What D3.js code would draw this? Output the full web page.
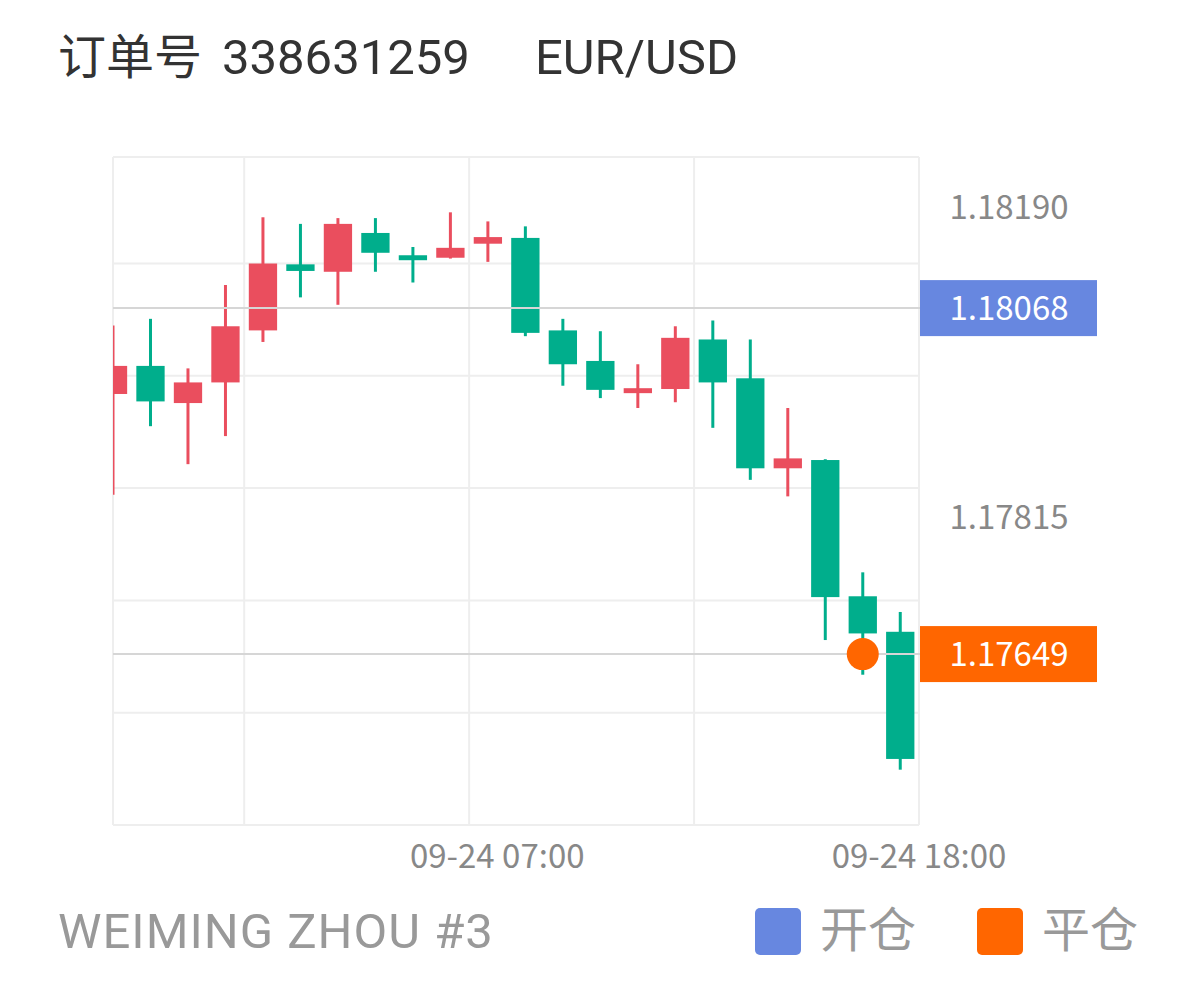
<!DOCTYPE html>
<html><head><meta charset="utf-8">
<script src="https://cdn.jsdelivr.net/npm/d3@7"></script>
<style>html,body{margin:0;padding:0;background:#fff;}svg{display:block;}</style>
</head><body>
<svg id="chart" width="1198" height="990"></svg>
<script>
// ---- data ----
const candleIndex = d3.range(22);
const opens  = [1.17964,1.17998,1.17953,1.17978,1.18041,1.18121,1.18112,1.18159,1.18132,1.18129,1.18146,1.18153,1.18041,1.18004,1.17965,1.17970,1.18030,1.17983,1.17874,1.17884,1.17719,1.17676];
const closes = [1.17998,1.17955,1.17978,1.18046,1.18122,1.18113,1.18170,1.18135,1.18126,1.18141,1.18154,1.18038,1.18000,1.17969,1.17971,1.18032,1.17978,1.17874,1.17886,1.17718,1.17674,1.17522];
const highs  = [1.18047,1.18055,1.17995,1.18096,1.18178,1.18170,1.18177,1.18177,1.18142,1.18184,1.18173,1.18167,1.18055,1.18040,1.18000,1.18046,1.18053,1.18030,1.17947,1.17885,1.17748,1.17700];
const lows   = [1.17842,1.17925,1.17879,1.17913,1.18027,1.18081,1.18072,1.18112,1.18099,1.18128,1.18124,1.18034,1.17974,1.17959,1.17947,1.17954,1.17923,1.17860,1.17840,1.17666,1.17624,1.17509];
const yDomain = [1.17442, 1.18251];
const gridValues = [1.17442, 1.17578, 1.17714, 1.17850, 1.17986, 1.18122];
const xGridIndex = [3.5, 9.5, 15.5];
const yTickLabels = ["1.18190", "1.17815"];
const xTickIndex = [10.25, 21.5];
const xTickLabels = ["09-24 07:00", "09-24 18:00"];
const openPrice = 1.18068;
const closePrice = 1.17649;
const closeIndex = 20;
const titleLabel = "订单号";
const orderNo = "338631259";
const symbol = "EUR/USD";
const account = "WEIMING ZHOU #3";
const legendLabels = ["开仓", "平仓"];

// ---- styles ----
const RED = "#EA4E5E", GREEN = "#00AE8C", BLUE = "#6787E0", ORANGE = "#FF6600";
const latin = "Roboto, 'Noto Sans CJK SC', sans-serif";
const cjk = "'Noto Sans CJK SC', 'Noto Sans', sans-serif";

const svg = d3.select("#chart");
svg.append("rect").attr("width",1198).attr("height",990).attr("fill","#fff");

const L = 113, R = 919, T = 157, B = 825;
const x = d3.scaleLinear().domain([0, 21.5]).range([L, R]);
const y = d3.scaleLinear().domain(yDomain).range([B, T]);
const step = x(1) - x(0);
const bodyW = step * 0.755;

// grid
const g = svg.append("g");
g.selectAll("line.h").data(gridValues.concat([yDomain[1]])).join("line")
  .attr("x1", L).attr("x2", R).attr("y1", d => y(d)).attr("y2", d => y(d))
  .attr("stroke", "#eeeeee").attr("stroke-width", 2);
g.selectAll("line.v").data([0].concat(xGridIndex, [21.5])).join("line")
  .attr("x1", d => x(d)).attr("x2", d => x(d)).attr("y1", T).attr("y2", B)
  .attr("stroke", "#eeeeee").attr("stroke-width", 2);

// clip
svg.append("clipPath").attr("id","plot").append("rect")
  .attr("x", L).attr("y", T).attr("width", R - L).attr("height", B - T);

const c = svg.append("g").attr("clip-path","url(#plot)");
const color = i => closes[i] >= opens[i] ? RED : GREEN;
c.selectAll("line.wick").data(candleIndex).join("line")
  .attr("x1", i => x(i)).attr("x2", i => x(i))
  .attr("y1", i => y(highs[i])).attr("y2", i => y(lows[i]))
  .attr("stroke", color).attr("stroke-width", 3);
c.selectAll("rect.body").data(candleIndex).join("rect")
  .attr("x", i => x(i) - bodyW/2).attr("width", bodyW)
  .attr("y", i => y(Math.max(opens[i], closes[i])))
  .attr("height", i => Math.max(2, Math.abs(y(opens[i]) - y(closes[i]))))
  .attr("fill", color);

// reference lines
svg.selectAll("line.ref").data([openPrice, closePrice]).join("line")
  .attr("x1", L).attr("x2", 921).attr("y1", d => y(d)).attr("y2", d => y(d))
  .attr("stroke", "#d6d6d6").attr("stroke-width", 2);

// close marker
svg.append("circle").attr("cx", x(closeIndex)).attr("cy", y(closePrice)).attr("r", 16).attr("fill", ORANGE);

// y tick labels
svg.selectAll("text.yt").data(yTickLabels).join("text")
  .attr("x", 1009).attr("y", d => y(+d)).attr("dy", "0.36em")
  .attr("text-anchor","middle").attr("font-family", cjk).attr("font-size", 33).attr("fill", "#888")
  .text(d => d);

// price boxes
const boxes = [{v: openPrice, c: BLUE}, {v: closePrice, c: ORANGE}];
boxes.forEach(b => {
  svg.append("rect").attr("x", 920).attr("y", y(b.v) - 28).attr("width", 177).attr("height", 56).attr("fill", b.c);
  svg.append("text").attr("x", 1009).attr("y", y(b.v)).attr("dy","0.36em").attr("text-anchor","middle")
    .attr("font-family", cjk).attr("font-size", 33).attr("fill", "#fff").text(b.v.toFixed(5));
});

// x tick labels
svg.selectAll("text.xt").data(xTickIndex).join("text")
  .attr("x", d => x(d)).attr("y", 868).attr("text-anchor","middle")
  .attr("font-family", cjk).attr("font-size", 33).attr("fill", "#888")
  .text((d, i) => xTickLabels[i]);

// title
svg.append("text").attr("x", 58).attr("y", 74).attr("font-family", cjk).attr("font-size", 48).attr("fill", "#333").text(titleLabel);
svg.append("text").attr("x", 222).attr("y", 74).attr("font-family", latin).attr("font-size", 49).attr("fill", "#333").text(orderNo);
svg.append("text").attr("x", 535).attr("y", 74).attr("font-family", latin).attr("font-size", 49).attr("fill", "#333").text(symbol);

// footer
svg.append("text").attr("x", 58).attr("y", 948).attr("font-family", latin).attr("font-size", 49)
  .attr("letter-spacing", 1).attr("fill", "#999").text(account);
const legendX = [755, 977];
[BLUE, ORANGE].forEach((col, i) => {
  svg.append("rect").attr("x", legendX[i]).attr("y", 908).attr("width", 46).attr("height", 47).attr("rx", 5).attr("fill", col);
  svg.append("text").attr("x", legendX[i] + 65).attr("y", 947).attr("font-family", cjk).attr("font-size", 48).attr("fill", "#999").text(legendLabels[i]);
});
</script>
</body></html>
